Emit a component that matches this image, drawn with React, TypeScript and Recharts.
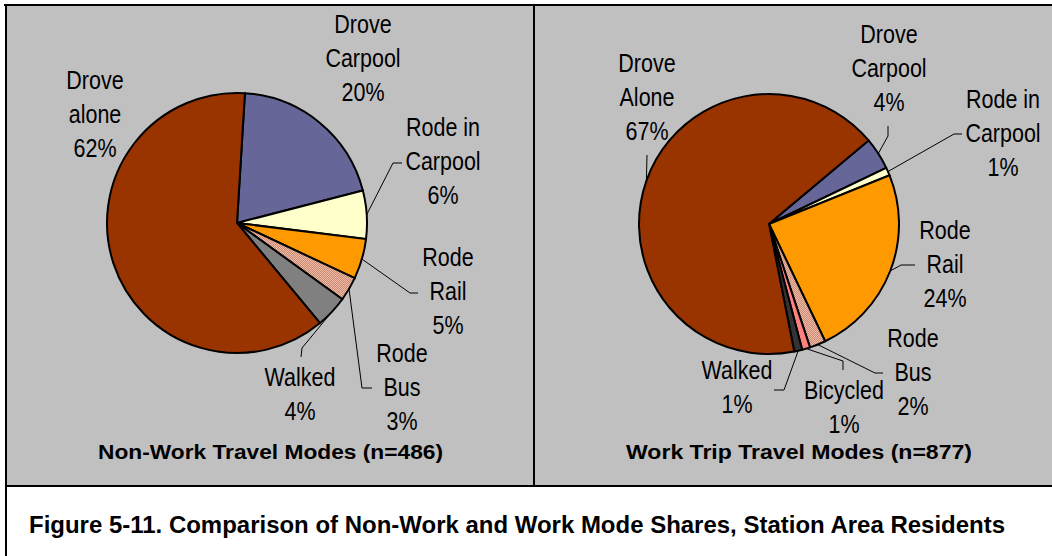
import React from "react";
import { Cell, Pie, PieChart } from "recharts";

// Non-work trips (n=486), clockwise from just right of 12 o'clock
const leftModes = ["Drove Carpool", "Rode in Carpool", "Rode Rail", "Rode Bus", "Walked", "Drove alone"];
const leftShares = [20, 6, 5, 3, 4, 62];
const leftLabelLines = [["Drove", "Carpool"], ["Rode in", "Carpool"], ["Rode", "Rail"], ["Rode", "Bus"], ["Walked"], ["Drove", "alone"]];

// Work trips (n=877)
const rightModes = ["Drove Carpool", "Rode in Carpool", "Rode Rail", "Rode Bus", "Bicycled", "Walked", "Drove Alone"];
const rightShares = [4, 1, 24, 2, 1, 1, 67];
const rightLabelLines = [["Drove", "Carpool"], ["Rode in", "Carpool"], ["Rode", "Rail"], ["Rode", "Bus"], ["Bicycled"], ["Walked"], ["Drove", "Alone"]];

const leftTitle = "Non-Work Travel Modes (n=486)";
const rightTitle = "Work Trip Travel Modes (n=877)";
const caption = "Figure 5-11. Comparison of Non-Work and Work Mode Shares, Station Area Residents";

const modeColors: Record<string, string> = {
  "Drove alone": "#993300",
  "Drove Alone": "#993300",
  "Drove Carpool": "#666699",
  "Rode in Carpool": "#FFFFCC",
  "Rode Rail": "#FF9900",
  "Rode Bus": "url(#busHatch)",
  Bicycled: "#FF8080",
};
const walkedColor = { left: "#808080", right: "#333333" };

// label placement relative to pie centre (first line centre + leader elbow points)
type Layout = { tx: number; ty: number; leader: number[][] };
const leftLayout: Layout[] = [
  { tx: 126, ty: -198, leader: [] },
  { tx: 206, ty: -95, leader: [[156, -60], [165, -60]] },
  { tx: 211, ty: 35, leader: [[173, 70], [181, 70]] },
  { tx: 165, ty: 131, leader: [[125, 165], [135, 165]] },
  { tx: 63, ty: 155, leader: [[65, 125], [64, 134]] },
  { tx: -142, ty: -142, leader: [] },
];
const rightLayout: Layout[] = [
  { tx: 120, ty: -189, leader: [[119, -88], [119, -98]] },
  { tx: 234, ty: -124, leader: [[185, -90], [193, -90]] },
  { tx: 176, ty: 7, leader: [[132, 41], [146, 41]] },
  { tx: 144, ty: 115, leader: [[106, 149], [114, 149]] },
  { tx: 75, ty: 167, leader: [[74, 137], [74, 146]] },
  { tx: -32, ty: 147, leader: [[15, 166], [5, 166]] },
  { tx: -122, ty: -160, leader: [[-122, -69]] },
];

const RAD = Math.PI / 180;
const LINE = 33.6;
const labelFont = "'Liberation Sans', Arial, sans-serif";

function makeLabel(lines: string[][], shares: number[], layout: Layout[]) {
  return (props: any) => {
    const { cx, cy, midAngle, outerRadius, index } = props;
    const l = layout[index];
    const ex = cx + outerRadius * Math.cos(-midAngle * RAD);
    const ey = cy + outerRadius * Math.sin(-midAngle * RAD);
    const pts = [[ex, ey], ...l.leader.map(([x, y]) => [cx + x, cy + y])];
    const text = [...lines[index], `${shares[index]}%`];
    return (
      <g key={`label-${index}`}>
        {l.leader.length > 0 && (
          <polyline
            points={pts.map((p) => p.join(",")).join(" ")}
            fill="none"
            stroke="#000"
            strokeWidth={1}
          />
        )}
        {/* narrow face: condense a regular sans horizontally */}
        <g transform={`translate(${cx + l.tx},0) scale(0.86,1)`}>
          <text textAnchor="middle" fontFamily={labelFont} fontSize={25} fill="#000">
            {text.map((t, i) => (
              <tspan key={i} x={0} y={cy + l.ty + i * LINE + 8.5}>
                {t}
              </tspan>
            ))}
          </text>
        </g>
      </g>
    );
  };
}

const leftData = leftModes.map((name, i) => ({ name, value: leftShares[i] }));
const rightData = rightModes.map((name, i) => ({ name, value: rightShares[i] }));
const noMargin = { top: 0, right: 0, bottom: 0, left: 0 };

export default function App() {
  return (
    <div style={{ position: "absolute", left: 0, top: 0, width: 1052, height: 556, background: "#fff" }}>
      <svg width={1052} height={556} style={{ position: "absolute", left: 0, top: 0 }}>
        <defs>
          <pattern id="busHatch" width={2} height={2} patternUnits="userSpaceOnUse">
            <rect width={2} height={2} fill="#F4BBA4" />
            <rect x={0} y={0} width={1} height={1} fill="#C48A76" />
            <rect x={1} y={1} width={1} height={1} fill="#C48A76" />
          </pattern>
        </defs>
        <rect x={6} y={6} width={1046} height={480} fill="#C0C0C0" />
        <line x1={4} y1={5} x2={1052} y2={5} stroke="#000" strokeWidth={2} />
        <line x1={6} y1={4} x2={6} y2={556} stroke="#000" strokeWidth={2} />
        <line x1={5} y1={486} x2={1052} y2={486} stroke="#000" strokeWidth={2} />
        <line x1={534} y1={5} x2={534} y2={486} stroke="#000" strokeWidth={2} />
        <text
          x={270.5}
          y={459}
          textAnchor="middle"
          fontFamily="'Liberation Sans', Arial, sans-serif"
          fontWeight="bold"
          fontSize={20}
          textLength={345}
          lengthAdjust="spacingAndGlyphs"
        >
          {leftTitle}
        </text>
        <text
          x={799}
          y={459}
          textAnchor="middle"
          fontFamily="'Liberation Sans', Arial, sans-serif"
          fontWeight="bold"
          fontSize={20}
          textLength={346}
          lengthAdjust="spacingAndGlyphs"
        >
          {rightTitle}
        </text>
        <text
          x={29}
          y={533}
          fontFamily="'Liberation Sans', Arial, sans-serif"
          fontWeight="bold"
          fontSize={23}
          textLength={976}
          lengthAdjust="spacingAndGlyphs"
        >
          {caption}
        </text>
      </svg>

      <div style={{ position: "absolute", left: 7, top: 6 }}>
        <PieChart width={526} height={479} margin={noMargin}>
          <Pie
            data={leftData}
            dataKey="value"
            nameKey="name"
            cx={230}
            cy={217}
            outerRadius={130}
            startAngle={86.5}
            endAngle={-273.5}
            stroke="#000"
            strokeWidth={2}
            label={makeLabel(leftLabelLines, leftShares, leftLayout)}
            labelLine={false}
            isAnimationActive={false}
          >
            {leftData.map((d) => (
              <Cell key={d.name} fill={d.name === "Walked" ? walkedColor.left : modeColors[d.name]} />
            ))}
          </Pie>
        </PieChart>
      </div>

      <div style={{ position: "absolute", left: 535, top: 6 }}>
        <PieChart width={517} height={479} margin={noMargin}>
          <Pie
            data={rightData}
            dataKey="value"
            nameKey="name"
            cx={234}
            cy={218}
            outerRadius={130}
            startAngle={40}
            endAngle={-320}
            stroke="#000"
            strokeWidth={2}
            label={makeLabel(rightLabelLines, rightShares, rightLayout)}
            labelLine={false}
            isAnimationActive={false}
          >
            {rightData.map((d) => (
              <Cell key={d.name} fill={d.name === "Walked" ? walkedColor.right : modeColors[d.name]} />
            ))}
          </Pie>
        </PieChart>
      </div>
    </div>
  );
}
